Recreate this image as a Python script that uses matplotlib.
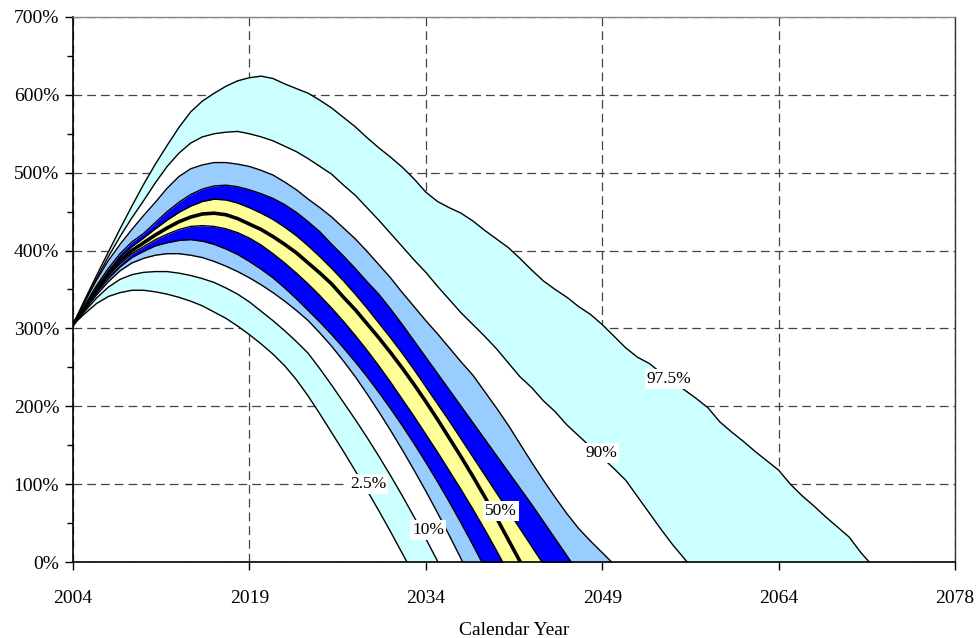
import numpy as np
import matplotlib
matplotlib.use('Agg')
import matplotlib.pyplot as plt
from matplotlib.ticker import MultipleLocator, FuncFormatter

plt.rcParams['font.family'] = ['Liberation Serif', 'DejaVu Serif']

# yearly percentile paths from 2004, each runs one year past zero
p025 = [305, 319, 332, 341, 346, 349, 349, 347, 344, 340, 335, 329, 321, 313, 303, 292,
        280, 267, 252, 234, 213, 190, 166, 142, 117, 92, 66, 39, 11, -17]
p10 = [305, 322, 339, 353, 363, 369, 372, 373, 373, 371, 368, 364, 359, 352, 344, 334,
       322, 310, 297, 283, 268, 248, 227, 205, 183, 160, 136, 111, 85, 58, 30, 1, -29]
p20 = [305, 324, 343, 360, 374, 384, 390, 394, 396, 396, 394, 391, 386, 380, 373, 365,
       356, 346, 335, 323, 310, 294, 277, 258, 238, 216, 193, 169, 144, 118, 91, 63, 34,
       4, -27]
p30 = [305, 325, 346, 364, 379, 391, 399, 406, 410, 413, 414, 412, 408, 402, 395, 386,
       376, 365, 352, 338, 323, 308, 292, 275, 257, 238, 218, 197, 175, 152, 128, 103, 77,
       50, 22, -7]
p40 = [305, 326, 348, 367, 383, 396, 405, 414, 421, 427, 431, 432, 431, 428, 423, 416,
       407, 396, 384, 371, 357, 342, 326, 309, 291, 272, 252, 231, 209, 187, 164, 141, 117,
       93, 68, 42, 15, -13]
p50 = [305, 327, 350, 370, 387, 400, 410, 420, 429, 437, 443, 447, 448, 446, 441, 434,
       427, 418, 408, 397, 384, 371, 357, 340, 324, 306, 288, 269, 249, 228, 206, 183, 159,
       135, 110, 84, 57, 29, 1, -28]
p60 = [305, 328, 352, 373, 391, 405, 416, 428, 439, 449, 457, 463, 466, 465, 461, 455,
       448, 440, 430, 419, 406, 392, 377, 361, 344, 326, 307, 288, 268, 247, 225, 203, 181,
       158, 135, 112, 89, 66, 43, 20, -3]
p70 = [305, 330, 355, 377, 396, 411, 422, 436, 450, 462, 472, 479, 483, 484, 482, 478,
       473, 467, 459, 449, 437, 424, 408, 393, 377, 360, 344, 325, 305, 284, 263, 242, 221,
       200, 179, 158, 137, 116, 95, 74, 52, 30, 8, -14]
p80 = [305, 334, 362, 387, 408, 427, 445, 462, 480, 495, 505, 510, 513, 513, 511, 508,
       503, 497, 488, 478, 466, 455, 443, 429, 415, 399, 382, 365, 346, 328, 310, 293, 275,
       257, 240, 219, 198, 176, 152, 128, 105, 83, 62, 43, 27, 12, -3]
p90 = [305, 335, 364, 392, 418, 442, 464, 487, 508, 525, 538, 546, 550, 552, 553, 550,
       546, 541, 534, 527, 518, 508, 498, 484, 471, 455, 439, 422, 405, 388, 372, 354, 337,
       320, 305, 290, 274, 256, 238, 224, 207, 193, 176, 162, 148, 134, 120, 105, 84, 63,
       42, 22, 4, -14]
p975 = [305, 337, 368, 398, 428, 457, 485, 511, 535, 558, 578, 592, 602, 611, 618, 622,
        624, 621, 614, 608, 602, 593, 583, 571, 559, 545, 532, 520, 507, 492, 475, 463, 455,
        448, 438, 426, 415, 404, 390, 375, 361, 350, 340, 328, 318, 305, 290, 275, 263, 255,
        243, 232, 221, 210, 198, 180, 167, 155, 142, 130, 118, 100, 85, 72, 58, 45, 32, 12,
        -5]

paths = [p025, p10, p20, p30, p40, p50, p60, p70, p80, p90, p975]
band_colors = ['#CCFFFF', '#FFFFFF', '#99CCFF', '#0000FF', '#FFFF99',
               '#FFFF99', '#0000FF', '#99CCFF', '#FFFFFF', '#CCFFFF']

years = np.arange(2004, 2080)
x_ticks = [2004, 2019, 2034, 2049, 2064, 2079]
x_tick_labels = ['2004', '2019', '2034', '2049', '2064', '2078']

# label text, year, value
labels = [('2.5%', 2029.1, 100), ('10%', 2034.2, 41), ('50%', 2040.4, 66),
          ('90%', 2048.9, 140), ('97.5%', 2054.7, 235)]


def pad_path(vals):
    arr = np.full(len(years), np.nan)
    arr[:len(vals)] = vals
    return arr


fig = plt.figure(figsize=(9.79, 6.38), dpi=100)
ax = fig.add_axes([0.0746, 0.1191, 0.9009, 0.8543])

curves = [pad_path(p) for p in paths]
filled = [np.nan_to_num(c, nan=-200) for c in curves]

for i, col in enumerate(band_colors):
    ax.fill_between(years, filled[i], filled[i + 1], color=col, lw=0, zorder=2)

for i, c in enumerate(curves):
    lw = 2.6 if i == 5 else 1.0
    ax.plot(years, c, color='black', lw=lw, zorder=3)

for txt, x, y in labels:
    ax.text(x, y, txt, ha='center', va='center', fontsize=12.5, zorder=5,
            bbox=dict(facecolor='white', edgecolor='none', pad=1.5))

ax.set_xlim(2004, 2079)
ax.set_ylim(0, 700)
ax.set_xticks(x_ticks)
ax.set_xticklabels(x_tick_labels)
ax.yaxis.set_major_locator(MultipleLocator(100))
ax.yaxis.set_minor_locator(MultipleLocator(50))
ax.yaxis.set_major_formatter(FuncFormatter(lambda v, pos: '%d%%' % v))

ax.set_axisbelow(True)
ax.grid(True, which='major', color='#444444', lw=0.9, linestyle=(0, (7, 4)), zorder=0)

ax.tick_params(axis='both', which='major', direction='out', length=6, width=1,
               labelsize=14, color='black')
ax.tick_params(axis='x', pad=14)
ax.tick_params(axis='y', which='minor', direction='out', length=4, width=1)
ax.tick_params(axis='y', pad=4)

for side in ['left', 'bottom']:
    ax.spines[side].set_color('black')
    ax.spines[side].set_linewidth(1.2)
ax.spines['top'].set_color('#888888')
ax.spines['right'].set_color('#333333')
ax.spines['top'].set_linewidth(1)
ax.spines['right'].set_linewidth(1)

ax.set_xlabel('Calendar Year', fontsize=14, labelpad=11)

fig.savefig('out.png', dpi=100)
